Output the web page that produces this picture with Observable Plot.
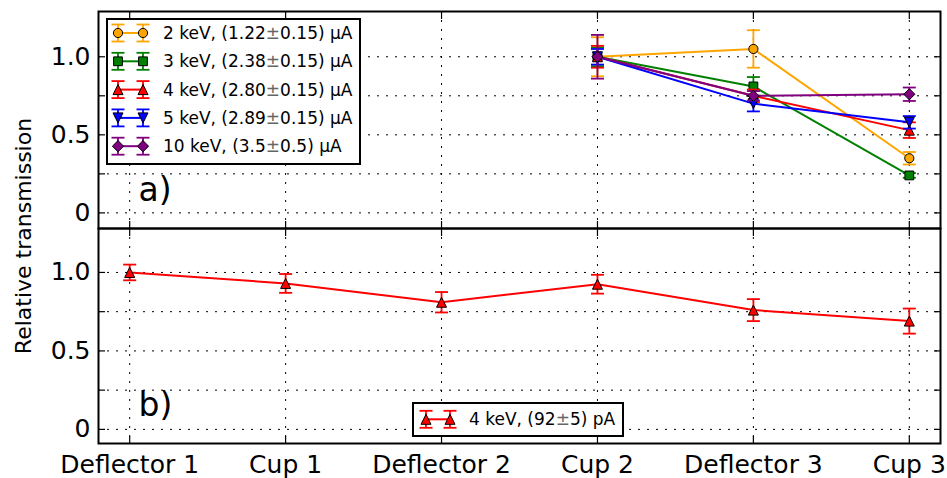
<!DOCTYPE html>
<html>
<head>
<meta charset="utf-8">
<script src="https://cdn.jsdelivr.net/npm/d3@7"></script>
<script src="https://cdn.jsdelivr.net/npm/@observablehq/plot@0.6"></script>
<style>
  body { margin: 0; background: #fff; }
  #chart { position: relative; width: 947px; height: 478px; font-family: "DejaVu Sans", sans-serif; overflow: hidden; }
  #chart > svg { position: absolute; left: 0; display: block; overflow: visible; }
  #ylab { position: absolute; left: 23px; top: 236px; transform: translate(-50%, -50%) rotate(-90deg);
          font-size: 22px; white-space: nowrap; color: #000; }
</style>
</head>
<body>
<div id="chart"><div id="ylab">Relative transmission</div></div>
<script>
// ---------------- data ----------------
const stages = ["Deflector 1", "Cup 1", "Deflector 2", "Cup 2", "Deflector 3", "Cup 3"];

// panel a) measured only at the last three stages
const stagesA = ["Cup 2", "Deflector 3", "Cup 3"];
const seriesA = [
  "2 keV, (1.22±0.15) μA",
  "3 keV, (2.38±0.15) μA",
  "4 keV, (2.80±0.15) μA",
  "5 keV, (2.89±0.15) μA",
  "10 keV, (3.5±0.5) μA"
];
const kev2 = [1.00, 1.05, 0.35];
const kev2Err = [0.125, 0.12, 0.04];
const kev3 = [1.00, 0.81, 0.24];
const kev3Err = [0.06, 0.06, 0.015];
const kev4 = [1.00, 0.75, 0.53];
const kev4Err = [0.07, 0.04, 0.05];
const kev5 = [1.00, 0.70, 0.58];
const kev5Err = [0.05, 0.05, 0.04];
const kev10 = [1.00, 0.75, 0.76];
const kev10Err = [0.14, 0.03, 0.043];
const colorsA = ["#ffa500", "#008000", "#ff0000", "#0000ff", "#800080"];
const markersA = ["circle", "square", "triangleUp", "triangleDown", "diamond"];

// panel b) 4 keV, low current
const seriesB = "4 keV, (92±5) pA";
const lowCurrent = [1.00, 0.93, 0.81, 0.925, 0.76, 0.69];
const lowCurrentErr = [0.05, 0.06, 0.065, 0.06, 0.07, 0.08];
const colorB = "#ff0000";
const markerB = "triangleUp";

// axis ticks
const yTicks = [0, 0.25, 0.5, 0.75, 1.0];
const yLabelTicks = [0, 0.5, 1.0];
const panelLabels = ["a)", "b)"];

// ---------------- symbols (matplotlib-like markers) ----------------
const sym = {
  circle: {draw(c) { const r = 4.6; c.moveTo(r, 0); c.arc(0, 0, r, 0, 2 * Math.PI); c.closePath(); }},
  square: {draw(c) { const s = 4.4; c.moveTo(-s, -s); c.lineTo(s, -s); c.lineTo(s, s); c.lineTo(-s, s); c.closePath(); }},
  triangleUp: {draw(c) { const s = 5; c.moveTo(0, -s); c.lineTo(s, s); c.lineTo(-s, s); c.closePath(); }},
  triangleDown: {draw(c) { const s = 5; c.moveTo(0, s); c.lineTo(s, -s); c.lineTo(-s, -s); c.closePath(); }},
  diamond: {draw(c) { const s = 5.6; c.moveTo(0, -s); c.lineTo(s, 0); c.lineTo(0, s); c.lineTo(-s, 0); c.closePath(); }},
  cap: {draw(c) { c.moveTo(-6.5, 0); c.lineTo(6.5, 0); }}
};

// ---------------- tables ----------------
const valsA = [kev2, kev3, kev4, kev5, kev10];
const errsA = [kev2Err, kev3Err, kev4Err, kev5Err, kev10Err];
const tableA = seriesA.map((s, k) => stagesA.map((st, i) => ({
  series: s, x: stages.indexOf(st), value: valsA[k][i], err: errsA[k][i]
})));
const tableB = stages.map((st, i) => ({series: seriesB, x: i, value: lowCurrent[i], err: lowCurrentErr[i]}));

const xTicks = d3.range(stages.length);
const fmtY = d => d === 0 ? "0" : d.toFixed(1);
const grid = {stroke: "black", strokeOpacity: 1, strokeWidth: 1, strokeDasharray: "2,7"};

function seriesMarks(rows, color, marker) {
  return [
    Plot.ruleX(rows, {x: "x", y1: d => d.value - d.err, y2: d => d.value + d.err, stroke: color, strokeWidth: 1.8}),
    Plot.dot(rows, {x: "x", y: d => d.value - d.err, symbol: sym.cap, stroke: color, fill: "none", strokeWidth: 1.8}),
    Plot.dot(rows, {x: "x", y: d => d.value + d.err, symbol: sym.cap, stroke: color, fill: "none", strokeWidth: 1.8}),
    Plot.line(rows, {x: "x", y: "value", stroke: color, strokeWidth: 2}),
    Plot.dot(rows, {x: "x", y: "value", symbol: sym[marker], fill: color, stroke: "black", strokeWidth: 1})
  ];
}

function panel({height, marginBottom, marginTop, yDomain, showXLabels, label, data}) {
  return Plot.plot({
    width: 947, height, marginTop, marginBottom, marginLeft: 98, marginRight: 7,
    x: {domain: [-0.2, 5.2], label: null},
    y: {domain: yDomain, label: null},
    style: {fontFamily: "DejaVu Sans, sans-serif", background: "transparent", overflow: "visible", color: "black"},
    marks: [
      Plot.gridY(yTicks, grid),
      Plot.gridX(xTicks, grid),
      Plot.axisY(yTicks, {anchor: "left", label: null, tickSize: -7, tickFormat: () => "", strokeWidth: 1.2}),
      Plot.axisY(yTicks, {anchor: "right", label: null, tickSize: -7, tickFormat: () => "", strokeWidth: 1.2}),
      Plot.axisY(yLabelTicks, {anchor: "left", label: null, tickSize: 0, tickPadding: 8, tickFormat: fmtY, fontSize: 25}),
      Plot.axisX(xTicks, {anchor: "top", label: null, tickSize: -7, tickFormat: () => "", strokeWidth: 1.2}),
      Plot.axisX(xTicks, {anchor: "bottom", label: null, tickSize: -7, tickFormat: () => "", strokeWidth: 1.2}),
      showXLabels ? Plot.axisX(xTicks, {anchor: "bottom", label: null, tickSize: 0, tickPadding: 12, tickFormat: i => stages[i], fontSize: 25}) : null,
      ...data,
      Plot.text([label], {frameAnchor: "bottom-left", dx: 40, dy: -37.6, fontSize: 33, textAnchor: "start", lineAnchor: "middle", fill: "black"}),
      Plot.frame({stroke: "black", strokeWidth: 2})
    ]
  });
}

const marksA = tableA.flatMap((rows, k) => seriesMarks(rows, colorsA[k], markersA[k]));
const marksB = seriesMarks(tableB, colorB, markerB);

const chart = document.getElementById("chart");
const svgA = panel({height: 228, marginTop: 11, marginBottom: 0, yDomain: [-0.1, 1.29], showXLabels: false, label: panelLabels[0], data: marksA});
svgA.style.top = "0px";
const svgB = panel({height: 250, marginTop: 0, marginBottom: 35, yDomain: [-0.09, 1.28], showXLabels: true, label: panelLabels[1], data: marksB});
svgB.style.top = "228px";
chart.appendChild(svgA);
chart.appendChild(svgB);

// ---------------- legends (drawn as overlay SVG) ----------------
function symPath(s) { const p = d3.path(); s.draw(p); return p.toString(); }
function legend({left, top, width, height, entries, rowY, rowStep, m1, m2, textX}) {
  const svg = d3.create("svg").attr("width", width).attr("height", height)
    .style("position", "absolute").style("left", left + "px").style("top", top + "px").style("overflow", "visible");
  svg.append("rect").attr("x", 1).attr("y", 1).attr("width", width - 2).attr("height", height - 2)
    .attr("fill", "white").attr("stroke", "black").attr("stroke-width", 2);
  entries.forEach((e, k) => {
    const y = rowY + k * rowStep;
    const g = svg.append("g").attr("transform", `translate(0,${y})`);
    for (const mx of [m1, m2]) {
      g.append("line").attr("x1", mx).attr("x2", mx).attr("y1", -8.5).attr("y2", 8.5).attr("stroke", e.color).attr("stroke-width", 1.8);
      for (const cy of [-8.5, 8.5]) g.append("path").attr("transform", `translate(${mx},${cy})`).attr("d", symPath(sym.cap)).attr("stroke", e.color).attr("stroke-width", 1.8);
    }
    g.append("line").attr("x1", m1).attr("x2", m2).attr("y1", 0).attr("y2", 0).attr("stroke", e.color).attr("stroke-width", 2);
    for (const mx of [m1, m2]) g.append("path").attr("transform", `translate(${mx},0)`).attr("d", symPath(sym[e.marker]))
      .attr("fill", e.color).attr("stroke", "black").attr("stroke-width", 1);
    const parts = e.label.split("±");
    const t = g.append("text").attr("x", textX).attr("y", 0).attr("dy", "0.36em")
      .attr("font-family", "DejaVu Sans, sans-serif").attr("font-size", 17).attr("fill", "black");
    t.append("tspan").text(parts[0]);
    t.append("tspan").attr("fill", "#666").text("±");
    t.append("tspan").text(parts[1]);
  });
  chart.appendChild(svg.node());
}

legend({left: 106, top: 18, width: 255, height: 147, rowY: 15, rowStep: 28.3, m1: 12, m2: 37, textX: 57,
  entries: seriesA.map((s, k) => ({label: s, color: colorsA[k], marker: markersA[k]}))});
legend({left: 412, top: 402, width: 212, height: 35, rowY: 17.3, rowStep: 0, m1: 14, m2: 38, textX: 57,
  entries: [{label: seriesB, color: colorB, marker: markerB}]});
</script>
</body>
</html>
